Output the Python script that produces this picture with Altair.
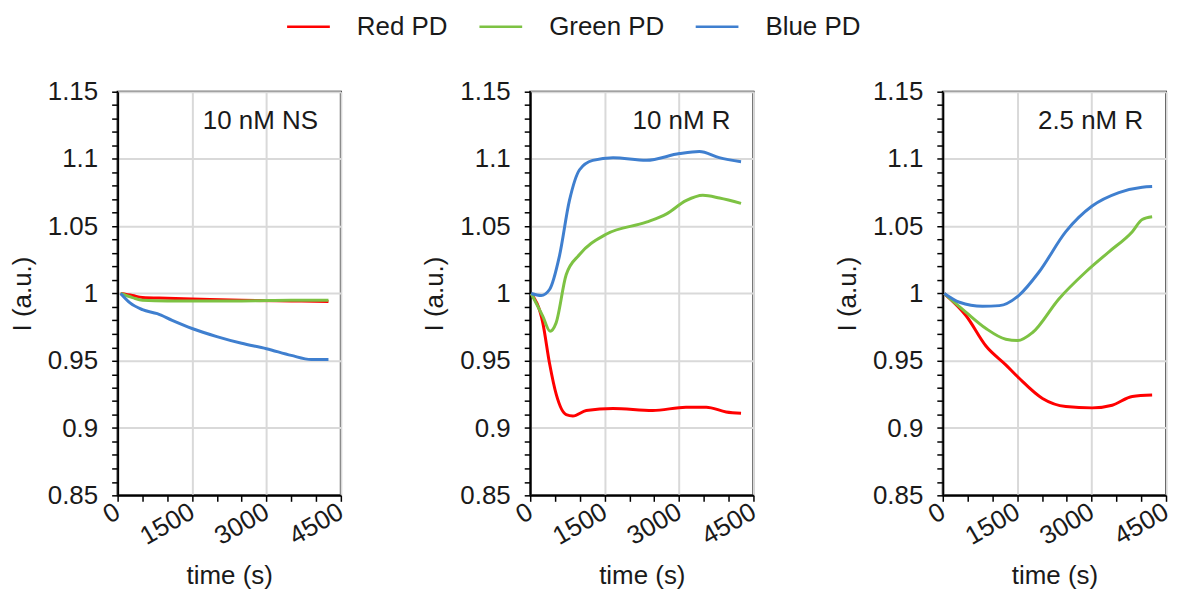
import altair as alt
import pandas as pd

SERIES = ["Red PD", "Green PD", "Blue PD"]
COLORS = ["#ff0000", "#7dc243", "#3f7fcf"]
PANELS = ["10 nM NS", "10 nM R", "2.5 nM R"]

# Panel 1: 10 nM NS
p1_red_t = [60, 300, 500, 1000, 1500, 2500, 3500, 4250]
p1_red_v = [1.0, 0.9985, 0.997, 0.9965, 0.996, 0.995, 0.9945, 0.994]
p1_green_t = [60, 300, 500, 1000, 1500, 2500, 3500, 4250]
p1_green_v = [1.0, 0.997, 0.995, 0.9945, 0.9945, 0.9945, 0.995, 0.995]
p1_blue_t = [60, 250, 500, 800, 1100, 1500, 2000, 2500, 3000, 3500, 3900, 4250]
p1_blue_v = [1.0, 0.993, 0.988, 0.985, 0.980, 0.974, 0.968, 0.963, 0.959, 0.954, 0.951, 0.951]

# Panel 2: 10 nM R
p2_red_t = [20, 255, 390, 525, 725, 860, 1130, 1670, 2470, 3140, 3550, 3950, 4250]
p2_red_v = [1.0, 0.978, 0.948, 0.925, 0.910, 0.909, 0.913, 0.9145, 0.913, 0.9155, 0.9155, 0.912, 0.911]
p2_green_t = [20, 255, 400, 520, 725, 995, 1530, 2340, 2740, 3140, 3480, 3815, 4250]
p2_green_v = [1.0, 0.983, 0.972, 0.978, 1.014, 1.029, 1.044, 1.053, 1.059, 1.069, 1.073, 1.071, 1.067]
p2_blue_t = [20, 220, 390, 590, 790, 995, 1260, 1670, 2340, 3010, 3410, 3810, 4250]
p2_blue_v = [1.0, 0.9985, 1.003, 1.028, 1.069, 1.092, 1.099, 1.101, 1.099, 1.104, 1.1055, 1.101, 1.098]

# Panel 3: 2.5 nM R
p3_red_t = [30, 470, 870, 1270, 1540, 2010, 2480, 3010, 3415, 3820, 4220]
p3_red_v = [1.0, 0.9835, 0.961, 0.947, 0.937, 0.922, 0.916, 0.915, 0.917, 0.9235, 0.9245]
p3_green_t = [30, 470, 870, 1270, 1510, 1810, 2340, 2880, 3350, 3820, 4020, 4220]
p3_green_v = [1.0, 0.986, 0.974, 0.966, 0.965, 0.971, 0.996, 1.016, 1.031, 1.046, 1.055, 1.057]
p3_blue_t = [30, 335, 800, 1140, 1530, 1940, 2480, 3010, 3550, 4020, 4220]
p3_blue_v = [1.0, 0.9935, 0.9905, 0.991, 0.9985, 1.016, 1.046, 1.065, 1.075, 1.079, 1.0795]

Y_MAJOR = [0.85, 0.9, 0.95, 1, 1.05, 1.1, 1.15]
Y_MINOR = [round(0.85 + 0.01 * i, 2) for i in range(31)]
X_MAJOR = [0, 1500, 3000, 4500]
X_MINOR = [0, 500, 1000, 1500, 2000, 2500, 3000, 3500, 4000, 4500]

panel_data = [
    [(p1_red_t, p1_red_v), (p1_green_t, p1_green_v), (p1_blue_t, p1_blue_v)],
    [(p2_red_t, p2_red_v), (p2_green_t, p2_green_v), (p2_blue_t, p2_blue_v)],
    [(p3_red_t, p3_red_v), (p3_green_t, p3_green_v), (p3_blue_t, p3_blue_v)],
]

FONT = "Liberation Sans"
FS = 26

y_major_js = "[" + ",".join(str(v) for v in Y_MAJOR) + "]"
x_major_js = "[" + ",".join(str(v) for v in X_MAJOR) + "]"

y_axis = alt.Axis(
    title="I (a.u.)",
    values=Y_MINOR,
    labelExpr=f"indexof({y_major_js}, datum.value) >= 0 ? '' + datum.value : ''",
    labelOverlap=False,
    labelFlush=False,
    gridOpacity={"condition": {"test": f"indexof({y_major_js}, datum.value) >= 0", "value": 1}, "value": 0},
    labelPadding=14,
    titlePadding=12,
)
x_axis = alt.Axis(
    title="time (s)",
    values=X_MINOR,
    labelExpr=f"indexof({x_major_js}, datum.value) >= 0 ? '' + datum.value : ''",
    labelOverlap=False,
    labelFlush=False,
    labelAngle=330,
    labelAlign="right",
    labelBaseline="middle",
    gridOpacity={"condition": {"test": f"indexof({x_major_js}, datum.value) >= 0", "value": 1}, "value": 0},
    labelPadding=8,
    titlePadding=13,
)

panels = []
for name, series_list in zip(PANELS, panel_data):
    rows = []
    for s, (ts, vs) in zip(SERIES, series_list):
        for t, v in zip(ts, vs):
            rows.append({"series": s, "time": t, "I": v})
    df = pd.DataFrame(rows)
    lines = alt.Chart(df).mark_line(strokeWidth=3, interpolate="monotone").encode(
        x=alt.X("time:Q", scale=alt.Scale(domain=[0, 4500], nice=False), axis=x_axis),
        y=alt.Y("I:Q", scale=alt.Scale(domain=[0.85, 1.15], nice=False, zero=False), axis=y_axis),
        color=alt.Color("series:N", scale=alt.Scale(domain=SERIES, range=COLORS),
                        legend=alt.Legend(title=None)),
    )
    label = alt.Chart(pd.DataFrame({"label": [name]})).mark_text(
        align="right", baseline="middle", fontSize=FS, font=FONT, color="#1a1a1a"
    ).encode(text="label:N", x=alt.value(201), y=alt.value(29))
    panels.append(alt.layer(lines, label).properties(width=224, height=405))

chart = alt.hconcat(*panels, spacing=190, bounds="flush").properties(
    padding={"left": 0, "top": 0, "right": 0, "bottom": 0}
).configure(font=FONT).configure_view(
    stroke="black", strokeWidth=2
).configure_axis(
    labelFont=FONT, titleFont=FONT, labelFontSize=FS, titleFontSize=FS,
    labelColor="#1a1a1a", titleColor="#1a1a1a", titleFontWeight="normal",
    domainColor="black", domainWidth=2, tickColor="black", tickWidth=1.5, tickSize=6,
    gridColor="#d9d9d9", gridWidth=2,
).configure_legend(
    orient="none", legendX=174, legendY=-83, direction="horizontal", padding=0,
    gridAlign="each",
    symbolType="M-1.34,0H1.34", symbolSize=1024, symbolStrokeWidth=2.5,
    labelFont=FONT, labelFontSize=26, labelColor="#1a1a1a",
    columnPadding=26, labelOffset=31,
)

chart.save("out.html", embed_options={"renderer": "svg", "actions": False})
